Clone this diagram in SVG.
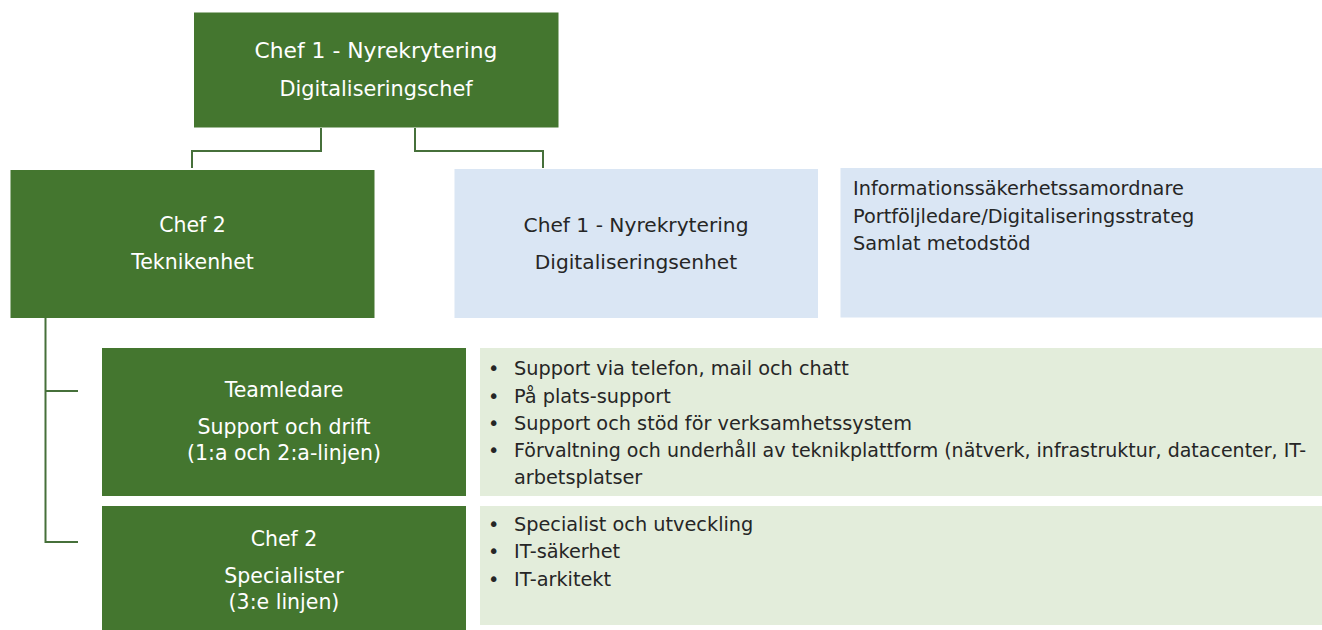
<svg xmlns="http://www.w3.org/2000/svg" width="1322" height="630" viewBox="0 0 1322 630">
<style>
.dg{fill:#44762F}
.lb{fill:#DAE6F4}
.lg{fill:#E3EDDB}
text{font-family:"DejaVu Sans","Liberation Sans",sans-serif}
.w{fill:#FFFFFF;text-anchor:middle;font-size:20.5px}
.wt{fill:#FFFFFF;text-anchor:middle;font-size:21.8px}
.d{fill:#262626;text-anchor:middle;font-size:20.2px}
.l{fill:#262626;font-size:19.3px}
.conn{fill:none;stroke:#46703A;stroke-width:2}
</style>
<rect width="1322" height="630" fill="#FFFFFF"/>
<g id="connectors">
<path class="conn" d="M321,128 V151 H192 V168"/>
<path class="conn" d="M415,128 V151 H543 V168"/>
<path class="conn" d="M45.5,318 V542 H78"/>
<path class="conn" d="M45.5,391 H78"/>
</g>
<g id="top">
<rect class="dg" x="194" y="12.5" width="364.5" height="115"/>
<text class="wt" x="376" y="58">Chef 1 - Nyrekrytering</text>
<text class="w" x="376" y="96" style="font-size:20.8px">Digitaliseringschef</text>
</g>
<g id="teknik">
<rect class="dg" x="10.5" y="170" width="364" height="148"/>
<text class="w" x="192.5" y="232">Chef 2</text>
<text class="w" x="192.5" y="269">Teknikenhet</text>
</g>
<g id="digenhet">
<rect class="lb" x="454.5" y="169" width="363.5" height="149"/>
<text class="d" x="636" y="232">Chef 1 - Nyrekrytering</text>
<text class="d" x="636" y="269">Digitaliseringsenhet</text>
</g>
<g id="roller">
<rect class="lb" x="840.5" y="168" width="481.5" height="149.5"/>
<text class="l" x="853" y="195">Informationssäkerhetssamordnare</text>
<text class="l" x="853" y="223">Portföljledare/Digitaliseringsstrateg</text>
<text class="l" x="853" y="250">Samlat metodstöd</text>
</g>
<g id="support">
<rect class="dg" x="102" y="348" width="364" height="148"/>
<text class="w" x="284" y="397">Teamledare</text>
<text class="w" x="284" y="434">Support och drift</text>
<text class="w" x="284" y="460">(1:a och 2:a-linjen)</text>
</g>
<g id="support-tasks">
<rect class="lg" x="480" y="348" width="842" height="148"/>
<text class="l" x="488" y="375">•</text>
<text class="l" x="514" y="375">Support via telefon, mail och chatt</text>
<text class="l" x="488" y="402.5">•</text>
<text class="l" x="514" y="402.5">På plats-support</text>
<text class="l" x="488" y="429.5">•</text>
<text class="l" x="514" y="429.5">Support och stöd för verksamhetssystem</text>
<text class="l" x="488" y="456.5">•</text>
<text class="l" x="514" y="456.5" textLength="792" lengthAdjust="spacingAndGlyphs">Förvaltning och underhåll av teknikplattform (nätverk, infrastruktur, datacenter, IT-</text>
<text class="l" x="514" y="484">arbetsplatser</text>
</g>
<g id="specialister">
<rect class="dg" x="102" y="506" width="364" height="124"/>
<text class="w" x="284" y="545.5">Chef 2</text>
<text class="w" x="284" y="582.5">Specialister</text>
<text class="w" x="284" y="609">(3:e linjen)</text>
</g>
<g id="specialist-tasks">
<rect class="lg" x="480" y="506" width="842" height="119"/>
<text class="l" x="488" y="530.5">•</text>
<text class="l" x="514" y="530.5">Specialist och utveckling</text>
<text class="l" x="488" y="558">•</text>
<text class="l" x="514" y="558">IT-säkerhet</text>
<text class="l" x="488" y="586">•</text>
<text class="l" x="514" y="586">IT-arkitekt</text>
</g>
</svg>
